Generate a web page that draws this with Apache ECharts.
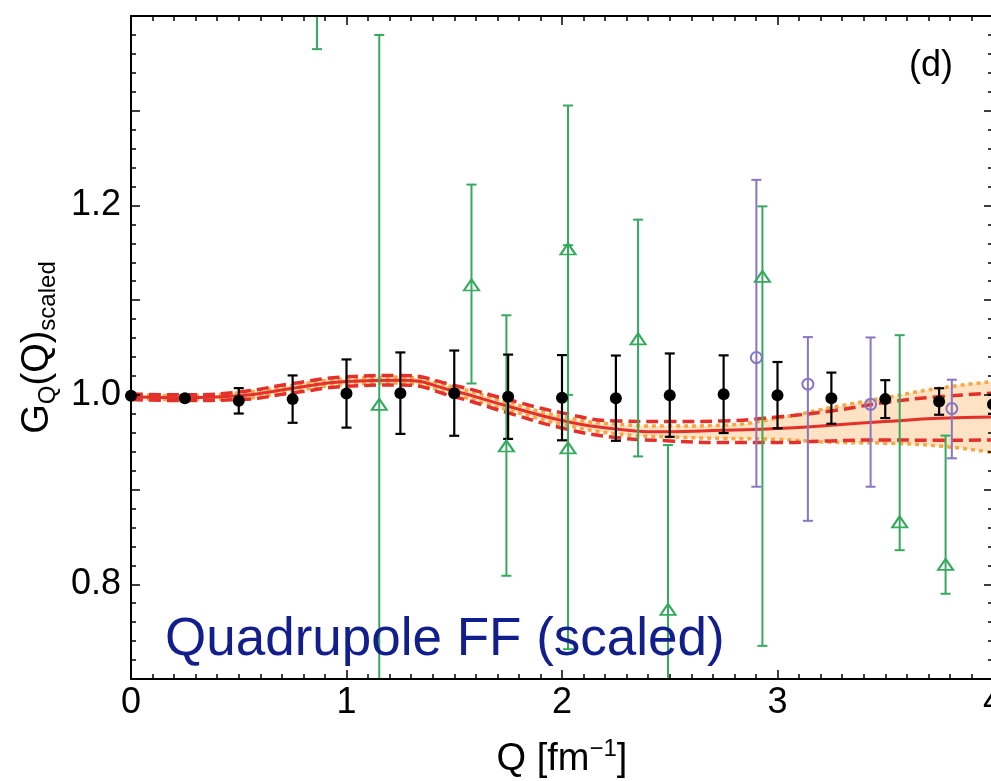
<!DOCTYPE html>
<html>
<head>
<meta charset="utf-8">
<script src="https://cdn.jsdelivr.net/npm/echarts@6/dist/echarts.min.js"></script>
<style>
  html, body { margin: 0; padding: 0; background: #fff; }
  #chart { width: 991px; height: 781px; }
</style>
</head>
<body>
<div id="chart"></div>
<script>
// theory curves (Q grid + band edges)
const qTheory = [0, 0.25, 0.5, 0.75, 1.0, 1.25, 1.5, 1.75, 2.0, 2.25, 2.5, 2.75, 3.0, 3.25, 3.5, 3.75, 4.0]
const gCentral = [0.998, 0.997, 0.999, 1.007, 1.014, 1.0155, 1.004, 0.988, 0.973, 0.964, 0.961, 0.9627, 0.9644, 0.968, 0.9718, 0.9753, 0.9767]
const gRedUpper = [1.001, 1.000, 1.003, 1.012, 1.019, 1.0205, 1.010, 0.995, 0.981, 0.9725, 0.9718, 0.9725, 0.9767, 0.983, 0.992, 0.998, 1.0018]
const gRedLower = [0.995, 0.994, 0.995, 1.002, 1.009, 1.0105, 0.998, 0.981, 0.965, 0.955, 0.9514, 0.9496, 0.9496, 0.9514, 0.9524, 0.952, 0.9524]
const gOrangeUpper = [1.000, 0.999, 1.002, 1.010, 1.017, 1.0185, 1.008, 0.992, 0.977, 0.969, 0.967, 0.968, 0.9753, 0.9866, 0.997, 1.007, 1.014]
const gOrangeLower = [0.996, 0.995, 0.996, 1.004, 1.011, 1.0125, 1.000, 0.984, 0.969, 0.959, 0.9556, 0.954, 0.953, 0.950, 0.949, 0.946, 0.939]

// black points (symmetric errors)
const blackQ = [0, 0.25, 0.5, 0.75, 1.0, 1.25, 1.5, 1.75, 2.0, 2.25, 2.5, 2.75, 3.0, 3.25, 3.5, 3.75, 4.0]
const blackG = [0.999, 0.9965, 0.9937, 0.9955, 1.0014, 1.0018, 1.0018, 0.998, 0.997, 0.9965, 0.9997, 1.0007, 0.9997, 0.9965, 0.9955, 0.993, 0.990]
const blackErr = [0, 0.003, 0.0134, 0.025, 0.036, 0.043, 0.045, 0.0445, 0.045, 0.045, 0.044, 0.041, 0.035, 0.027, 0.020, 0.014, 0.010]

// green triangles
const greenQ = [0.863, 1.152, 1.580, 1.742, 2.028, 2.028, 2.353, 2.492, 2.930, 3.567, 3.780]
const greenG = [1.65, 0.990, 1.116, 0.946, 1.154, 0.944, 1.059, 0.7735, 1.125, 0.866, 0.821]
const greenLow = [1.365, 0.60, 1.012, 0.809, 1.000, 0.7315, 0.935, 0.60, 0.735, 0.836, 0.790]
const greenHigh = [1.95, 1.38, 1.222, 1.084, 1.3055, 1.158, 1.185, 0.947, 1.199, 1.063, 0.957]

// purple open circles
const purpleQ = [2.902, 3.141, 3.432, 3.809]
const purpleG = [1.0394, 1.0113, 0.990, 0.9855]
const purpleLow = [0.903, 0.867, 0.903, 0.933]
const purpleHigh = [1.227, 1.061, 1.0606, 1.016]

const xTicks = [0, 1, 2, 3, 4]
const yTickLabels = ['0.8', '1.0', '1.2']

const FONT = '"Liberation Sans", Arial, Helvetica, sans-serif'
const RED = '#e3302b'
const ORANGE = '#f8a640'
const PEACH = '#fde2c4'
const GREEN = '#35a95e'
const PURPLE = '#8676c4'

const chart = echarts.init(document.getElementById('chart'))

const pairs = (xs, ys) => xs.map((x, i) => [x, ys[i]])

// error bar renderer
const errorBars = (color, width, capHalf) => (params, api) => {
  const x = api.value(0)
  const lo = api.coord([x, api.value(1)])
  const hi = api.coord([x, api.value(2)])
  const style = { stroke: color, lineWidth: width }
  return {
    type: 'group',
    children: [
      { type: 'line', shape: { x1: lo[0], y1: lo[1], x2: hi[0], y2: hi[1] }, style },
      { type: 'line', shape: { x1: lo[0] - capHalf, y1: lo[1], x2: lo[0] + capHalf, y2: lo[1] }, style },
      { type: 'line', shape: { x1: hi[0] - capHalf, y1: hi[1], x2: hi[0] + capHalf, y2: hi[1] }, style }
    ]
  }
}

const frameTick = len => ({ show: true, inside: true, length: len, lineStyle: { color: '#000', width: 1.5 } })
const frameMinor = { show: true, length: 5, lineStyle: { color: '#000', width: 1.5 } }
const frameLine = { show: true, onZero: false, lineStyle: { color: '#000', width: 2 } }

const option = {
  animation: false,
  backgroundColor: '#fff',
  grid: { left: 131, top: 16, width: 862, height: 663, containLabel: false, outerBoundsMode: 'none' },
  xAxis: [
    {
      type: 'value', min: 0, max: 4, interval: 1, z: 20,
      axisLine: frameLine,
      axisTick: frameTick(9),
      minorTick: Object.assign({ splitNumber: 10 }, frameMinor),
      splitLine: { show: false },
      axisLabel: {
        margin: 6, fontSize: 36, color: '#000', fontFamily: FONT,
        formatter: v => xTicks.includes(v) ? String(v) : ''
      },
      name: '{m|Q [fm}{p|\u22121}{m|]}',
      nameLocation: 'middle',
      nameGap: 58,
      nameTextStyle: {
        fontFamily: FONT, color: '#000',
        rich: {
          m: { fontSize: 38, lineHeight: 46, fontFamily: FONT, color: '#000' },
          p: { fontSize: 24, lineHeight: 24, verticalAlign: 'top', fontFamily: FONT, color: '#000' }
        }
      }
    },
    {
      type: 'value', min: 0, max: 4, interval: 1, position: 'top', z: 20,
      axisLine: frameLine,
      axisTick: frameTick(9),
      minorTick: Object.assign({ splitNumber: 10 }, frameMinor),
      splitLine: { show: false },
      axisLabel: { show: false }
    }
  ],
  yAxis: [
    {
      type: 'value', min: 0.7, max: 1.4, interval: 0.1, z: 20,
      axisLine: frameLine,
      axisTick: frameTick(9),
      minorTick: Object.assign({ splitNumber: 5 }, frameMinor),
      splitLine: { show: false },
      axisLabel: {
        margin: 10, fontSize: 36, color: '#000', fontFamily: FONT,
        formatter: v => {
          const s = v.toFixed(1)
          return yTickLabels.includes(s) ? s : ''
        }
      },
      name: '{m|G}{s|Q}{m|(Q)}{s|scaled}',
      nameLocation: 'middle',
      nameRotate: 90,
      nameGap: 68,
      nameTextStyle: {
        fontFamily: FONT, color: '#000',
        rich: {
          m: { fontSize: 38, lineHeight: 46, fontFamily: FONT, color: '#000' },
          s: { fontSize: 24, lineHeight: 24, verticalAlign: 'bottom', fontFamily: FONT, color: '#000' }
        }
      }
    },
    {
      type: 'value', min: 0.7, max: 1.4, interval: 0.1, position: 'right', z: 20,
      axisLine: frameLine,
      axisTick: frameTick(9),
      minorTick: Object.assign({ splitNumber: 5 }, frameMinor),
      splitLine: { show: false },
      axisLabel: { show: false }
    }
  ],
  graphic: [
    {
      type: 'text', left: 909, top: 48, z: 100,
      style: { text: '(d)', fontSize: 36, fontFamily: FONT, fill: '#000' }
    },
    {
      type: 'text', left: 165, top: 614, z: 100,
      style: { text: 'Quadrupole FF (scaled)', fontSize: 53, fontFamily: FONT, fill: '#121e8c' }
    }
  ],
  series: [
    // peach band: fill under the upper edge, then mask under the lower edge
    {
      name: 'bandUpperFill', type: 'line', smooth: true, symbol: 'none', silent: true, z: 1,
      data: pairs(qTheory, gOrangeUpper),
      lineStyle: { opacity: 0 },
      areaStyle: { color: PEACH, opacity: 1, origin: 'start' }
    },
    {
      name: 'bandLowerMask', type: 'line', smooth: true, symbol: 'none', silent: true, z: 1,
      data: pairs(qTheory, gOrangeLower),
      lineStyle: { opacity: 0 },
      areaStyle: { color: '#fff', opacity: 1, origin: 'start' }
    },
    {
      name: 'orangeUpper', type: 'line', smooth: true, symbol: 'none', z: 2,
      data: pairs(qTheory, gOrangeUpper),
      lineStyle: { color: ORANGE, width: 3.5, type: [4, 4] }
    },
    {
      name: 'orangeLower', type: 'line', smooth: true, symbol: 'none', z: 2,
      data: pairs(qTheory, gOrangeLower),
      lineStyle: { color: ORANGE, width: 3.5, type: [4, 4] }
    },
    {
      name: 'redUpper', type: 'line', smooth: true, symbol: 'none', z: 3,
      data: pairs(qTheory, gRedUpper),
      lineStyle: { color: RED, width: 3.5, type: [12, 6] }
    },
    {
      name: 'redLower', type: 'line', smooth: true, symbol: 'none', z: 3,
      data: pairs(qTheory, gRedLower),
      lineStyle: { color: RED, width: 3.5, type: [12, 6] }
    },
    {
      name: 'central', type: 'line', smooth: true, symbol: 'none', z: 4,
      data: pairs(qTheory, gCentral),
      lineStyle: { color: RED, width: 3 }
    },
    {
      name: 'greenErr', type: 'custom', clip: true, z: 5,
      renderItem: errorBars(GREEN, 2, 5),
      encode: { x: 0, y: [1, 2] },
      data: greenQ.map((q, i) => [q, greenLow[i], greenHigh[i]])
    },
    {
      name: 'purpleErr', type: 'custom', clip: true, z: 5,
      renderItem: errorBars(PURPLE, 2, 5),
      encode: { x: 0, y: [1, 2] },
      data: purpleQ.map((q, i) => [q, purpleLow[i], purpleHigh[i]])
    },
    {
      name: 'blackErr', type: 'custom', clip: true, z: 6,
      renderItem: errorBars('#000', 2.2, 5),
      encode: { x: 0, y: [1, 2] },
      data: blackQ.map((q, i) => [q, blackG[i] - blackErr[i], blackG[i] + blackErr[i]])
    },
    {
      name: 'green', type: 'scatter', clip: true, z: 7,
      symbol: 'triangle', symbolSize: [15, 11],
      itemStyle: { color: 'rgba(0,0,0,0)', borderColor: GREEN, borderWidth: 2, opacity: 1 },
      data: pairs(greenQ, greenG)
    },
    {
      name: 'purple', type: 'scatter', clip: true, z: 7,
      symbol: 'circle', symbolSize: 11,
      itemStyle: { color: 'rgba(0,0,0,0)', borderColor: PURPLE, borderWidth: 2, opacity: 1 },
      data: pairs(purpleQ, purpleG)
    },
    {
      name: 'black', type: 'scatter', clip: true, z: 8,
      symbol: 'circle', symbolSize: 12,
      itemStyle: { color: '#000', opacity: 1 },
      data: pairs(blackQ, blackG)
    }
  ]
}

chart.setOption(option)
</script>
</body>
</html>
